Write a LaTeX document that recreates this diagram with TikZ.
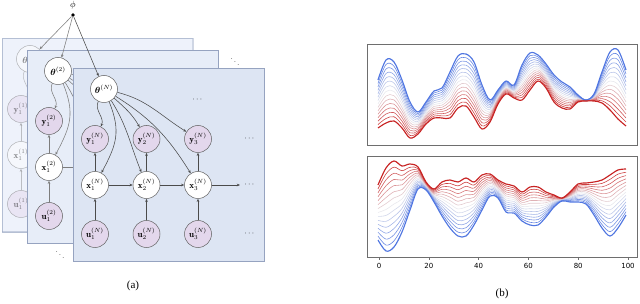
\documentclass[tikz,border=0pt]{standalone}
\usepackage{amsmath}
\usepackage{fontspec}
\newfontfamily\tickfont{DejaVu Sans}
\newfontfamily\capfont{Liberation Serif}
\usetikzlibrary{arrows.meta}
\definecolor{pnlN}{RGB}{221,229,243}
\definecolor{pnlB}{RGB}{231,237,248}
\definecolor{pnlA}{RGB}{238,242,251}
\definecolor{pnlborder}{RGB}{150,163,192}
\definecolor{obsfill}{RGB}{227,215,236}
\definecolor{nodeline}{RGB}{95,95,95}
\definecolor{edgeN}{RGB}{75,75,75}
\definecolor{edgeB}{RGB}{125,125,125}
\definecolor{blueC}{RGB}{80,118,225}
\definecolor{redC}{RGB}{200,35,35}
\definecolor{midC}{RGB}{232,232,237}
\definecolor{axisC}{RGB}{110,110,110}

\tikzset{
  hid/.style={circle,draw=nodeline,line width=0.5pt,fill=white,minimum size=27pt,inner sep=0pt,font=\fontsize{9}{10}\selectfont},
  obs/.style={hid,fill=obsfill},
  edge/.style={line width=0.55pt,-{Stealth[length=3.2pt,width=2.6pt]}},
  dotsnode/.style={inner sep=0pt,font=\footnotesize},
  panelbox/.style={draw=pnlborder,line width=0.8pt},
}

% #1,#2 panel origin; #3 node x shift; #4 superscript; #5 id; #6 panel fill; #7 edge colour
\newcommand\drawpanel[7]{%
\begin{scope}[shift={(#1,#2)}]
  \draw[panelbox,fill=#6] (0,0) rectangle (191,193);
  \begin{scope}[xshift=#3]
  \node[hid] (th#5) at (31,21) {$\boldsymbol{\theta}^{(#4)}$};
  \foreach \i/\xx in {1/22,2/73.5,3/125}{
    \node[obs] (y#5\i) at (\xx,71) {$\mathbf{y}_{\i}^{(#4)}$};
    \node[hid] (x#5\i) at (\xx,117) {$\mathbf{x}_{\i}^{(#4)}$};
    \node[obs] (u#5\i) at (\xx,166) {$\mathbf{u}_{\i}^{(#4)}$};
    \draw[edge,#7] (u#5\i) -- (x#5\i);
    \draw[edge,#7] (x#5\i) -- (y#5\i);
  }
  \coordinate (end#5) at (167,117);
  \draw[edge,#7] (x#51) -- (x#52);
  \draw[edge,#7] (x#52) -- (x#53);
  \draw[edge,#7] (x#53) -- (end#5);
  \node[dotsnode] (dt#5) at (125,32) {$\cdots$};
  \node[dotsnode] (dy#5) at (177,71) {$\cdots$};
  \node[dotsnode] (dx#5) at (177,117) {$\cdots$};
  \node[dotsnode] (du#5) at (177,166) {$\cdots$};
  \draw[edge,#7] (th#5) to[out=-115,in=65] (y#51);
  \draw[edge,#7] (th#5) to[out=-68,in=62,looseness=1.15] (x#51);
  \draw[edge,#7] (th#5) to[out=-42,in=120] (y#52);
  \draw[edge,#7] (th#5) to[out=-58,in=112] (x#52);
  \draw[edge,#7] (th#5) to[out=-14,in=148] (y#53);
  \draw[edge,#7] (th#5) to[out=-32,in=122] (x#53);
  \end{scope}
\end{scope}}

\newcommand\drawfamily[1]{%
 \foreach \k in {7,6,8,5,9,4,10,3,11,2,12,1,13,0,14}{%
  \pgfmathsetmacro\tval{\k/14}%
  \ifnum\k<7
    \pgfmathtruncatemacro\pc{100*(7-\k)/7}\colorlet{cc}{blueC!\pc!midC}%
  \else
    \pgfmathtruncatemacro\pc{100*(\k-7)/7}\colorlet{cc}{redC!\pc!midC}%
  \fi
  \pgfmathsetmacro\lw{((\k==0)||(\k==14))?1.15:0.6}%
  \gdef\pts{}%
  \foreach \x/\a/\b in #1 {\pgfmathsetmacro\yy{(1-\tval)*\a+\tval*\b}\xdef\pts{\pts(\x,\yy)}}%
  \edef\tmp{\noexpand\draw[cc,line width=\lw pt,line join=round] plot[smooth,tension=0.55] coordinates {\pts};}\tmp
 }}

\def\topdata{378/80/128,386/60/123,394/62/121,402/80/128,410/102/138,418/112/134,426/102/124,434/91/118,442/88/118,450/72/118,458/56/108,466/54/106,474/62/117,482/85/129,490/100/122,498/90/104,506/81/94,514/85/98,522/65/100,530/53/90,538/55/81,546/64/88,554/75/102,562/82/108,570/87/109,578/95/102,586/100/101,594/94/101,602/72/103,610/52/110,618/50/119,626/70/126}
\def\botdata{378/240/185,386/251/168,394/247/161,402/232/166,410/210/164,418/189/167,426/190/182,434/202/189,442/216/182,450/228/180,458/236/182,466/236/178,474/225/182,482/210/175,490/196/174,498/198/180,506/212/184,514/213/186,522/221/192,530/225/187,538/225/187,546/217/192,554/207/195,562/201/198,570/202/192,578/202/184,586/204/183,594/215/182,602/228/180,610/236/175,618/228/170,626/215/169}

\begin{document}
\begin{tikzpicture}[x=1pt,y=-1pt]
\useasboundingbox (0,0) rectangle (640,304);

% hyper-parameter
\node[circle,fill=black,inner sep=0pt,minimum size=3.8pt] (phi) at (73,15) {};
\node[font=\small,inner sep=1pt] (philab) at (73,5.5) {$\phi$};

% panel 1 (back)
\begin{scope}
  \draw[panelbox,fill=pnlA,draw=pnlborder!70] (2,38) rectangle (192,232);
  \begin{scope}[opacity=0.45]
    \drawpanel{2}{38}{-3}{1}{a}{pnlA}{edgeB}
  \end{scope}
\end{scope}
\draw[edge,edgeB] (phi) -- (tha);

% panel 2
\drawpanel{27}{50}{0}{2}{b}{pnlB}{edgeB}
% panel N
\drawpanel{73}{68}{0}{N}{n}{pnlN}{edgeN}

\draw[edge,edgeB] (phi) -- (thb);
\draw[edge,edgeN] (phi) -- (thn);

\node[dotsnode] (ddtop) at (235,59) {$\ddots$};
\node[dotsnode] (ddbot) at (60,252) {$\ddots$};
\node[font=\capfont\fontsize{11}{12}\selectfont] (cap-a) at (133,286) {(a)};

% panel (b)
\begin{scope}
  \clip (367,44) rectangle (637,145);
  \drawfamily{\topdata}
\end{scope}
\draw[axisC,line width=0.8pt] (367,44) rectangle (637,145);
\begin{scope}
  \clip (367,156) rectangle (637,257);
  \drawfamily{\botdata}
\end{scope}
\draw[axisC,line width=0.8pt] (367,156) rectangle (637,257);
\foreach \v in {0,20,40,60,80,100}{
  \pgfmathsetmacro\px{379+\v*2.49}
  \draw[axisC,line width=0.6pt] (\px,257) -- (\px,260);
  \node[font=\tickfont\fontsize{7}{8}\selectfont,inner sep=0pt] (tick\v) at (\px,265.5) {\v};
}
\node[font=\capfont\fontsize{11}{12}\selectfont] (cap-b) at (502,294) {(b)};
\end{tikzpicture}
\end{document}
